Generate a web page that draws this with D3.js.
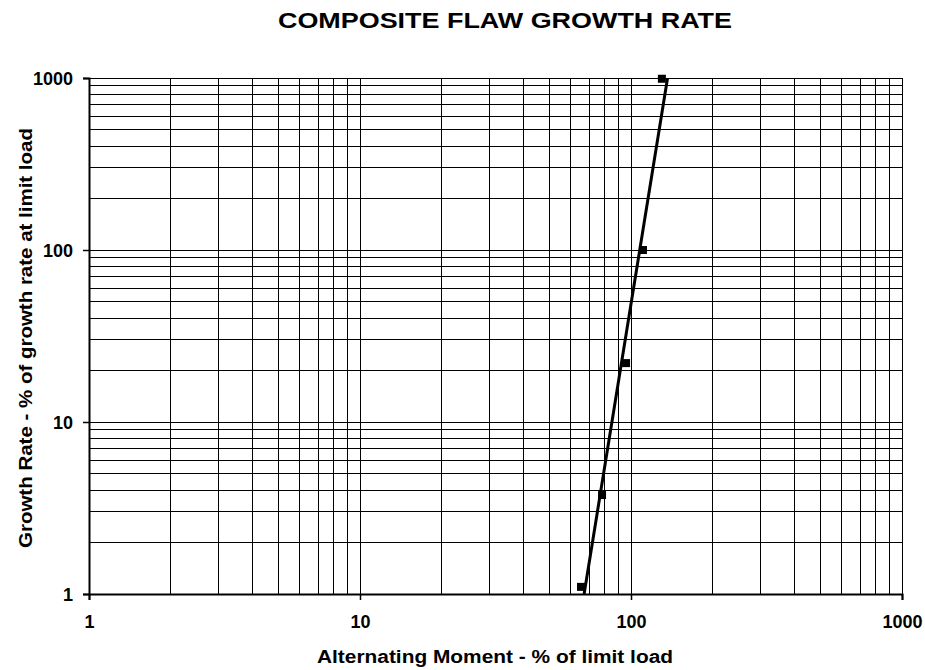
<!DOCTYPE html>
<html>
<head>
<meta charset="utf-8">
<script src="https://cdn.jsdelivr.net/npm/d3@7"></script>
<style>
  body { margin: 0; background: #fff; }
  text { font-family: Arial, "Liberation Sans", sans-serif; font-weight: bold; fill: #000; }
</style>
</head>
<body>
<svg id="chart" width="925" height="670"></svg>
<script>
// data
var moment = [65.4, 78.2, 95.9, 110.7, 130];      // % of limit load
var growth = [1.1, 3.76, 22, 100, 990];            // % of growth rate at limit load
var xTicks = [1, 10, 100, 1000];
var yTicks = [1, 10, 100, 1000];

var svg = d3.select("#chart");
var pL = 89, pR = 902, pT = 78, pB = 594;

var x = d3.scaleLog().domain([1, 1000]).range([pL, pR]);
var y = d3.scaleLog().domain([1, 1000]).range([pB, pT]);

// minor + major grid values
function gridVals(d0, d1) {
   var out = [];
   for (var p = d0; p < d1; p *= 10)
      for (var k = 1; k < 10; k++) out.push(p * k);
   out.push(d1);
   return out;
}

var grid = svg.append("g").attr("shape-rendering", "crispEdges");
grid.selectAll(".vx")
    .data(gridVals(1, 1000))
    .enter()
    .append("line")
    .attr("x1", function (d) { return x(d); })
    .attr("x2", function (d) { return x(d); })
    .attr("y1", pT).attr("y2", pB)
    .attr("stroke", "#000").attr("stroke-width", 1);
grid.selectAll(".hy")
    .data(gridVals(1, 1000))
    .enter()
    .append("line")
    .attr("y1", function (d) { return y(d); })
    .attr("y2", function (d) { return y(d); })
    .attr("x1", pL).attr("x2", pR)
    .attr("stroke", "#000").attr("stroke-width", 1);

// axes (major ticks only, outside)
var xAxis = d3.axisBottom(x).tickValues(xTicks).tickSize(6).tickPadding(15).tickFormat(d3.format("d"));
var yAxis = d3.axisLeft(y).tickValues(yTicks).tickSize(6).tickPadding(10).tickFormat(d3.format("d"));

var gx = svg.append("g").attr("transform", "translate(0," + pB + ")").call(xAxis);
var gy = svg.append("g").attr("transform", "translate(" + pL + ",0)").call(yAxis);
[gx, gy].forEach(function (g) {
   g.select(".domain").attr("stroke", "#000").attr("stroke-width", 2);
   g.selectAll(".tick line").attr("stroke", "#000").attr("stroke-width", 1.5);
   g.selectAll(".tick text").style("font-size", "18px").style("font-weight", "bold")
    .style("font-family", "Arial, 'Liberation Sans', sans-serif");
});
gy.selectAll(".tick text").attr("dy", "0.36em");

// power trend line, fit in log space
var lx = moment.map(function (v) { return Math.log10(v); });
var ly = growth.map(function (v) { return Math.log10(v); });
var mx = d3.mean(lx), my = d3.mean(ly);
var sxy = d3.sum(lx, function (v, i) { return (v - mx) * (ly[i] - my); });
var sxx = d3.sum(lx, function (v) { return (v - mx) * (v - mx); });
var b = sxy / sxx, a = my - b * mx;
var trendX = [Math.pow(10, (0 - a) / b), Math.pow(10, (3 - a) / b)];

svg.append("clipPath").attr("id", "plotclip")
   .append("rect").attr("x", pL).attr("y", pT).attr("width", pR - pL).attr("height", pB - pT);

svg.append("path")
   .datum(trendX)
   .attr("clip-path", "url(#plotclip)")
   .attr("fill", "none")
   .attr("stroke", "#000")
   .attr("stroke-width", 3)
   .attr("d", d3.line()
      .x(function (d) { return x(d); })
      .y(function (d) { return y(Math.pow(10, a + b * Math.log10(d))); }));

// markers
svg.selectAll(".pt")
   .data(moment)
   .enter()
   .append("rect")
   .attr("x", function (d) { return x(d) - 4; })
   .attr("y", function (d, i) { return y(growth[i]) - 4; })
   .attr("width", 8).attr("height", 8)
   .attr("fill", "#000");

// titles
svg.append("text")
   .attr("x", 505).attr("y", 28)
   .attr("text-anchor", "middle")
   .attr("textLength", 454).attr("lengthAdjust", "spacingAndGlyphs")
   .style("font-size", "22px")
   .text("COMPOSITE FLAW GROWTH RATE");

svg.append("text")
   .attr("x", 495).attr("y", 663)
   .attr("text-anchor", "middle")
   .attr("textLength", 356).attr("lengthAdjust", "spacingAndGlyphs")
   .style("font-size", "18px")
   .text("Alternating Moment - % of limit load");

svg.append("text")
   .attr("transform", "translate(32,338) rotate(-90)")
   .attr("text-anchor", "middle")
   .attr("textLength", 420).attr("lengthAdjust", "spacingAndGlyphs")
   .style("font-size", "18px")
   .text("Growth Rate - % of growth rate at limit load");
</script>
</body>
</html>
